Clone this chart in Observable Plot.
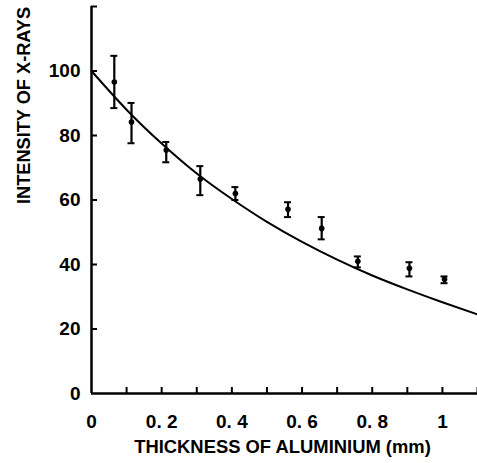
<!DOCTYPE html>
<html>
<head>
<meta charset="utf-8">
<script src="https://cdn.jsdelivr.net/npm/d3@7"></script>
<script src="https://cdn.jsdelivr.net/npm/@observablehq/plot@0.6"></script>
<style>
  html, body { margin: 0; padding: 0; background: #fff; }
</style>
</head>
<body>
<div id="chart"></div>
<script>
// Measured points (thickness in mm, intensity) with error bar ends
const thickness = [0.065, 0.114, 0.213, 0.31, 0.41, 0.56, 0.656, 0.759, 0.906, 1.006];
const intensity = [96.6, 84.2, 75.5, 66.5, 62.0, 57.1, 51.2, 41.0, 38.8, 35.4];
const errHigh   = [104.7, 90.1, 78.0, 70.5, 64.0, 59.3, 54.7, 42.5, 40.7, 36.3];
const errLow    = [88.5, 77.6, 71.7, 61.5, 60.0, 54.7, 47.8, 39.1, 36.3, 34.2];

// Fitted curve
const curveX = [0, 0.1, 0.2, 0.3, 0.4, 0.5, 0.6, 0.7, 0.8, 0.9, 1.0, 1.1];
const curveY = [100, 88, 77.5, 68.2, 60.3, 53.2, 47, 41.5, 36.6, 32.3, 28.3, 24.5];

// Axis ticks and labels
const xTicks = [0.1, 0.2, 0.3, 0.4, 0.5, 0.6, 0.7, 0.8, 0.9, 1.0, 1.1];
const xLabelTicks = [0, 0.2, 0.4, 0.6, 0.8, 1.0];
const xTickLabels = ["0", "0. 2", "0. 4", "0. 6", "0. 8", "1"];
const yTicks = [20, 40, 60, 80, 100, 120];
const yLabelTicks = [0, 20, 40, 60, 80, 100];
const yTickLabels = ["0", "20", "40", "60", "80", "100"];
const xTitle = "THICKNESS OF ALUMINIUM (mm)";
const yTitle = "INTENSITY OF X-RAYS";

const points = thickness.map((x, i) => ({x, y: intensity[i], hi: errHigh[i], lo: errLow[i]}));
const curve = curveX.map((x, i) => ({x, y: curveY[i]}));

const font = "'Liberation Sans', Arial, sans-serif";

const chart = Plot.plot({
  width: 477,
  height: 463,
  marginLeft: 91,
  marginRight: 0,
  marginTop: 6,
  marginBottom: 70,
  style: {fontFamily: font, fontSize: "19px", fontWeight: "bold", color: "#000", background: "#fff", overflow: "visible"},
  x: {domain: [0, 1.1]},
  y: {domain: [0, 120]},
  marks: [
    // tick labels
    Plot.axisX({ticks: xLabelTicks, tickSize: 0, tickPadding: 21,
      tickFormat: d => xTickLabels[xLabelTicks.indexOf(d)], fontSize: 19, label: null}),
    Plot.axisY({ticks: yLabelTicks, tickSize: 0, tickPadding: 11,
      tickFormat: d => yTickLabels[yLabelTicks.indexOf(d)], fontSize: 19, label: null}),
    // inward ticks
    Plot.axisX({ticks: xTicks, tickSize: -6, tickFormat: () => "", strokeWidth: 2, label: null}),
    Plot.axisY({ticks: yTicks, tickSize: -6, tickFormat: () => "", strokeWidth: 2, label: null}),
    // axis lines
    Plot.ruleY([0], {strokeWidth: 2.5}),
    Plot.ruleX([0], {strokeWidth: 2.5}),
    // fitted curve
    Plot.line(curve, {x: "x", y: "y", curve: "natural", strokeWidth: 2, stroke: "#000"}),
    // error bars
    Plot.ruleX(points, {x: "x", y1: "lo", y2: "hi", strokeWidth: 2.2}),
    Plot.ruleY(points, {y: "hi", x1: "x", x2: "x", insetLeft: -3.5, insetRight: -3.5, strokeWidth: 2}),
    Plot.ruleY(points, {y: "lo", x1: "x", x2: "x", insetLeft: -3.5, insetRight: -3.5, strokeWidth: 2}),
    Plot.dot(points, {x: "x", y: "y", r: 2.8, fill: "#000"}),
    // axis titles
    Plot.text([xTitle], {frameAnchor: "bottom", dx: -2, dy: 59, text: d => d, fontSize: 18.4, fontWeight: "bold"}),
    Plot.text([yTitle], {frameAnchor: "left", dx: -67, dy: 4, rotate: -90, text: d => d, fontSize: 18.2, fontWeight: "bold"})
  ]
});
document.getElementById("chart").appendChild(chart);
</script>
</body>
</html>
